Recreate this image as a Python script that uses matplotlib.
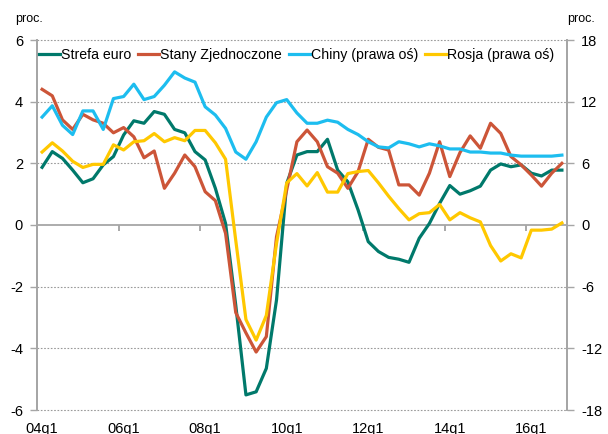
import numpy as np
import matplotlib
matplotlib.use("Agg")
import matplotlib.pyplot as plt

plt.rcParams["font.family"] = ["Liberation Sans", "DejaVu Sans"]
plt.rcParams["axes.unicode_minus"] = False

# quarterly data 04q1 .. 16q4, left axis (proc.)
strefa_euro = [1.87, 2.38, 2.16, 1.78, 1.37, 1.50, 1.95, 2.22, 2.92, 3.38, 3.30,
               3.68, 3.59, 3.10, 2.99, 2.38, 2.11, 1.19, 0.05, -2.6, -5.51,
               -5.41, -4.65, -2.43, 1.35, 2.27, 2.38, 2.38, 2.78, 1.78, 1.40,
               0.49, -0.54, -0.86, -1.05, -1.11, -1.21, -0.43, 0.05, 0.70, 1.28,
               1.0, 1.11, 1.26, 1.78, 1.98, 1.89, 1.95, 1.68, 1.59, 1.78, 1.78]
stany = [4.40, 4.19, 3.41, 3.10, 3.59, 3.41, 3.30, 2.99, 3.16, 2.86, 2.18,
         2.40, 1.19, 1.68, 2.27, 1.89, 1.08, 0.79, -0.27, -2.84, -3.5,
         -4.12, -3.62, -0.38, 1.14, 2.70, 3.08, 2.70, 1.89, 1.68, 1.19,
         1.73, 2.78, 2.52, 2.43, 1.30, 1.30, 0.97, 1.68, 2.70, 1.57,
         2.35, 2.89, 2.49, 3.30, 2.97, 2.22, 1.95, 1.62, 1.26, 1.68, 2.0]
# right axis (prawa os)
chiny = [10.5, 11.6, 9.7, 8.8, 11.1, 11.1, 9.3, 12.3, 12.5, 13.7, 12.2,
         12.5, 13.6, 14.9, 14.3, 13.9, 11.5, 10.7, 9.4, 7.1, 6.4,
         8.1, 10.5, 11.9, 12.2, 10.9, 9.9, 9.9, 10.2, 10.0, 9.3,
         8.8, 8.1, 7.6, 7.5, 8.1, 7.9, 7.6, 7.9, 7.7, 7.4,
         7.4, 7.1, 7.1, 7.0, 7.0, 6.8, 6.7, 6.7, 6.7, 6.7, 6.8]
rosja = [7.1, 8.0, 7.2, 6.2, 5.6, 5.9, 5.9, 7.8, 7.3, 8.1, 8.2,
         8.9, 8.1, 8.5, 8.2, 9.2, 9.2, 8.0, 6.4, -1.5, -9.2,
         -11.2, -8.8, -1.8, 4.1, 5.0, 3.8, 5.1, 3.2, 3.2, 5.0,
         5.2, 5.3, 4.1, 2.8, 1.6, 0.5, 1.1, 1.2, 2.0, 0.5,
         1.2, 0.7, 0.3, -2.0, -3.5, -2.8, -3.2, -0.5, -0.5, -0.4, 0.2]

x_labels = ["04q1", "06q1", "08q1", "10q1", "12q1", "14q1", "16q1"]

c_green = "#00796B"
c_red = "#CC5538"
c_cyan = "#1DBDEF"
c_yellow = "#FFC800"
c_axis = "#A6A6A6"

x = np.arange(len(strefa_euro))

fig = plt.figure(figsize=(6.08, 4.34), dpi=100)
ax = fig.add_axes([37 / 608, 1 - 410 / 434, 530 / 608, 370 / 434])
ax2 = ax.twinx()

lw = 2.3
l1, = ax.plot(x, strefa_euro, color=c_green, lw=lw, label="Strefa euro")
l2, = ax.plot(x, stany, color=c_red, lw=lw, label="Stany Zjednoczone")
l3, = ax2.plot(x, chiny, color=c_cyan, lw=lw, label="Chiny (prawa oś)")
l4, = ax2.plot(x, rosja, color=c_yellow, lw=lw, label="Rosja (prawa oś)")

ax.set_xlim(-0.5, len(x) - 0.5)
ax.set_ylim(-6, 6)
ax2.set_ylim(-18, 18)
ax.set_yticks(np.arange(-6, 7, 2))
ax2.set_yticks(np.arange(-18, 19, 6))

# dotted grid, solid zero line
for v in [-6, -4, -2, 2, 4, 6]:
    ax.axhline(v, color="#9A9A9A", lw=0.8, ls=(0, (1.5, 1.5)), zorder=0, clip_on=False)
ax.axhline(0, color=c_axis, lw=1.3, zorder=0.5)

for a in (ax, ax2):
    a.spines["top"].set_visible(False)
    a.spines["bottom"].set_visible(False)
    a.spines["left"].set_color(c_axis)
    a.spines["right"].set_color(c_axis)
    a.spines["left"].set_linewidth(1.3)
    a.spines["right"].set_linewidth(1.3)
ax.tick_params(axis="y", length=5, width=1, color=c_axis, labelsize=10.5, pad=5)
ax2.tick_params(axis="y", length=5, width=1, color=c_axis, labelsize=10.5, pad=5)

# category labels along the bottom, one every 8 quarters
ax.set_xticks(np.arange(0, len(x), 8))
ax.set_xticklabels(x_labels)
ax.tick_params(axis="x", length=0, labelsize=10.5, pad=9)

# tick marks on the zero line between categories
sec = ax.secondary_xaxis(0.5)
sec.xaxis.set_ticks_position("bottom")
sec.set_xticks(np.arange(-0.5, len(x), 8))
sec.set_xticklabels([])
for s in sec.spines.values():
    s.set_visible(False)
sec.tick_params(axis="x", which="both", bottom=True, top=False, length=4.5,
                width=1.2, color="#999999", direction="out")

fig.text(15 / 608, 1 - 19 / 434, "proc.", fontsize=9, va="center", ha="left")
fig.text(567 / 608, 1 - 19 / 434, "proc.", fontsize=9, va="center", ha="left")

fig.legend(handles=[l1, l2, l3, l4], loc="center left",
           bbox_to_anchor=(39 / 608, 1 - 55 / 434), ncol=4, frameon=False,
           fontsize=10.2, handlelength=1.45, handletextpad=0.1,
           columnspacing=0.5, borderpad=0, borderaxespad=0)

fig.savefig("out.png", dpi=100)
